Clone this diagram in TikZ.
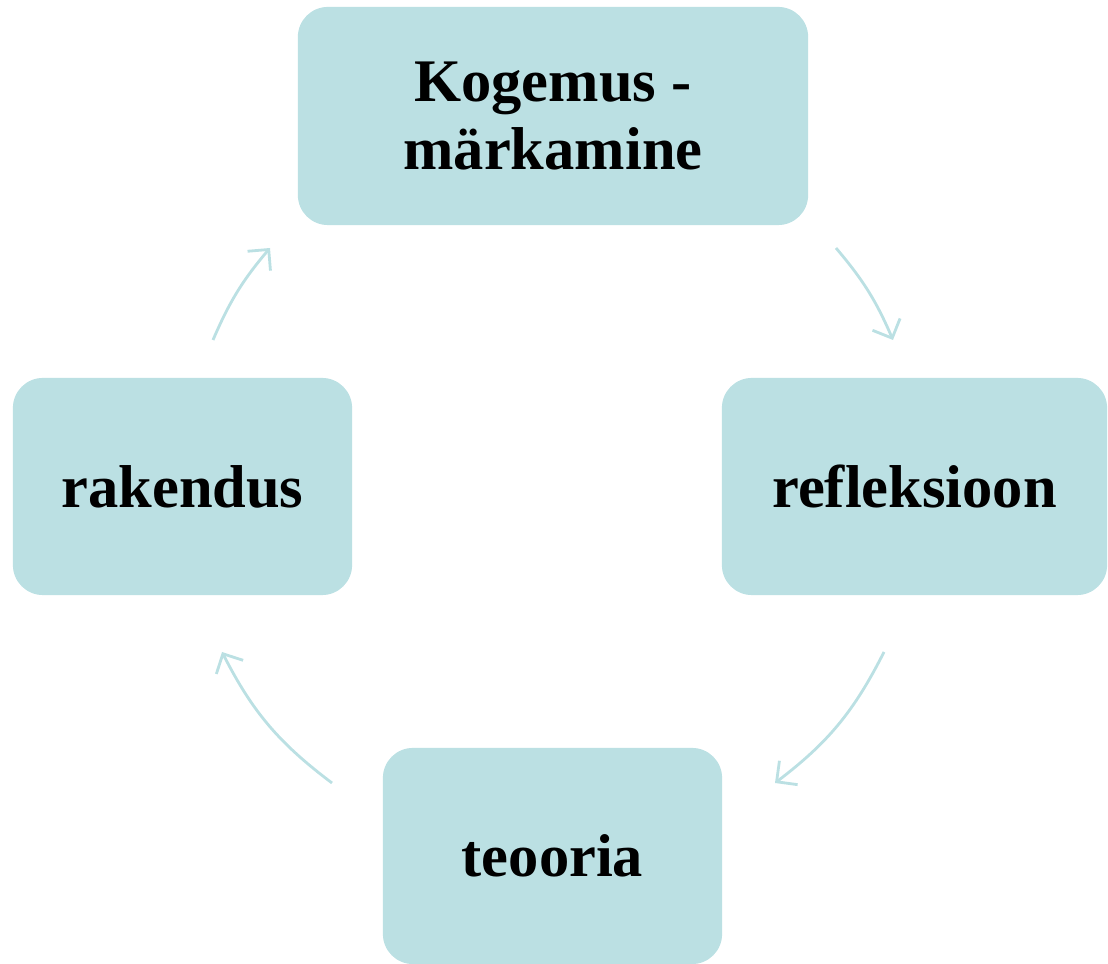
\documentclass[tikz,border=0pt]{standalone}
\usepackage{fontspec}
\setmainfont{Liberation Serif}
\usepackage{tikz}
\usetikzlibrary{arrows.meta}
\definecolor{cyclebox}{RGB}{187,224,227}
\tikzset{
  stagebox/.style={fill=cyclebox,rounded corners=0.3cm,inner sep=0pt,align=center,
    font=\fontsize{17.2}{19.4}\selectfont\bfseries,minimum height=2.17cm},
  cyclearrow/.style={draw=cyclebox,line width=0.8pt,-{Straight Barb[length=1.5mm,width=3mm]}}
}

\begin{document}
\begin{tikzpicture}[x=0.01cm,y=0.01cm]
  \useasboundingbox (0,0) rectangle (1108,-964);
  \node[stagebox,minimum width=5.10cm,minimum height=2.18cm] (kogemus) at (553,-116) {Kogemus -\\märkamine};
  \node[stagebox,minimum width=3.85cm] (refl) at (914.5,-486.5) {refleksioon};
  \node[stagebox,minimum width=3.39cm,minimum height=2.16cm] (teooria) at (552.5,-856) {teooria};
  \node[stagebox,minimum width=3.39cm] (rakend) at (182.5,-486.5) {rakendus};
  % arc ends on the cycle around the middle
  \coordinate (a1) at (836,-248);
  \coordinate (a2) at (893,-340);
  \coordinate (b1) at (884,-652);
  \coordinate (b2) at (775,-783);
  \coordinate (c1) at (332,-783);
  \coordinate (c2) at (222,-652);
  \coordinate (d1) at (213,-340);
  \coordinate (d2) at (270,-248);
  \draw[cyclearrow] (a1) to[bend left=8.5] (a2);
  \draw[cyclearrow] (b1) to[bend left=13] (b2);
  \draw[cyclearrow] (c1) to[bend left=13] (c2);
  \draw[cyclearrow] (d1) to[bend left=8.5] (d2);
\end{tikzpicture}
\end{document}
